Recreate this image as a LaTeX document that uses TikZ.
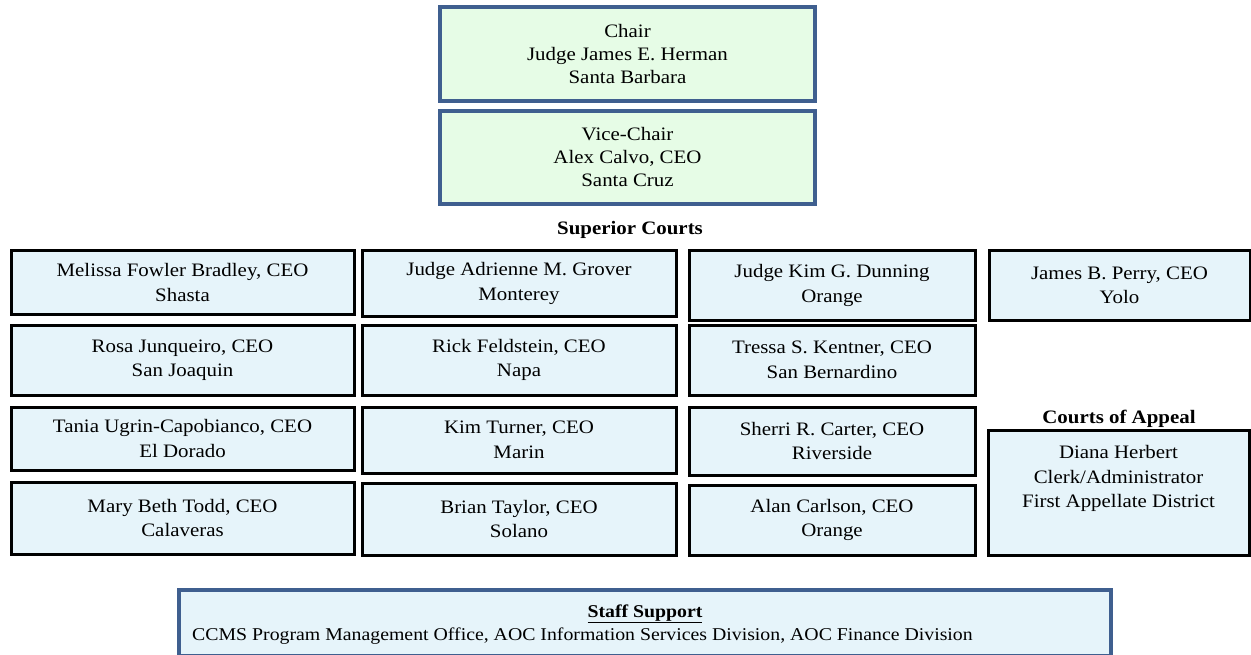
\documentclass[tikz,border=0pt]{standalone}
\usepackage{fontspec}
\setmainfont[FakeStretch=1.1]{Liberation Serif}
\definecolor{bluebd}{HTML}{3F5F8F}
\definecolor{greenfill}{HTML}{E6FCE6}
\definecolor{bluefill}{HTML}{E6F4FA}
\begin{document}
\begin{tikzpicture}[x=1pt,y=-1pt,
  topbox/.style={draw=bluebd,line width=3.5pt,fill=greenfill,align=center,inner sep=0pt,font=\fontsize{19}{23}\selectfont},
  courtbox/.style={draw=black,line width=3pt,fill=bluefill,align=center,inner sep=0pt,font=\fontsize{19}{24.5}\selectfont},
  staffbox/.style={draw=bluebd,line width=3.5pt,fill=bluefill,inner sep=0pt},
  stafftext/.style={inner sep=0pt,font=\fontsize{18}{22}\selectfont},
  heading/.style={font=\bfseries\fontsize{19}{20}\selectfont,inner sep=0pt}]
\useasboundingbox (0,0) rectangle (1251,655);
\begin{scope}
\clip (0,0) rectangle (1251,655);
\node[topbox,minimum width=375pt,minimum height=94pt] (chair) at (627.5,54) {Chair\\Judge James E. Herman\\Santa Barbara};
\node[topbox,minimum width=375pt,minimum height=93pt] (vice) at (627.5,157.5) {Vice-Chair\\Alex Calvo, CEO\\Santa Cruz};
\node[heading] (sup) at (630,230) {Superior Courts};
% column 1
\node[courtbox,minimum width=343pt,minimum height=63pt] (c1a) at (182.5,282.5) {Melissa Fowler Bradley, CEO\\Shasta};
\node[courtbox,minimum width=343pt,minimum height=70pt] (c1b) at (182.5,360) {Rosa Junqueiro, CEO\\San Joaquin};
\node[courtbox,minimum width=343pt,minimum height=63pt] (c1c) at (182.5,438.5) {Tania Ugrin-Capobianco, CEO\\El Dorado};
\node[courtbox,minimum width=343pt,minimum height=72pt] (c1d) at (182.5,518) {Mary Beth Todd, CEO\\Calaveras};
% column 2
\node[courtbox,minimum width=314pt,minimum height=65pt] (c2a) at (519,283.5) {Judge Adrienne M. Grover\\Monterey};
\node[courtbox,minimum width=314pt,minimum height=70pt] (c2b) at (519,360) {Rick Feldstein, CEO\\Napa};
\node[courtbox,minimum width=314pt,minimum height=66pt] (c2c) at (519,440) {Kim Turner, CEO\\Marin};
\node[courtbox,minimum width=314pt,minimum height=72pt] (c2d) at (519,519) {Brian Taylor, CEO\\Solano};
% column 3
\node[courtbox,minimum width=286pt,minimum height=69pt] (c3a) at (832,285.5) {Judge Kim G. Dunning\\Orange};
\node[courtbox,minimum width=286pt,minimum height=70pt] (c3b) at (832,360) {Tressa S. Kentner, CEO\\San Bernardino};
\node[courtbox,minimum width=286pt,minimum height=68pt] (c3c) at (832,441) {Sherri R. Carter, CEO\\Riverside};
\node[courtbox,minimum width=286pt,minimum height=70pt] (c3d) at (832,520) {Alan Carlson, CEO\\Orange};
% column 4
\node[courtbox,minimum width=261pt,minimum height=69pt] (c4a) at (1119.5,285.5) {James B. Perry, CEO\\Yolo};
\node[heading] (coa) at (1119,419) {Courts of Appeal};
\node[courtbox,minimum width=261pt,minimum height=125pt] (diana) at (1118.5,492.5) {Diana Herbert\\Clerk/Administrator\\First Appellate District\\ \strut};
% staff
\node[staffbox,minimum width=932pt,minimum height=66pt] (staff) at (645,623) {};
\node[stafftext] (staffhead) at (645,614) {\textbf{\underline{Staff Support}}};
\node[stafftext,anchor=west] (stafflist) at (192,636) {CCMS Program Management Office, AOC Information Services Division, AOC Finance Division};
\end{scope}
\end{tikzpicture}
\end{document}
